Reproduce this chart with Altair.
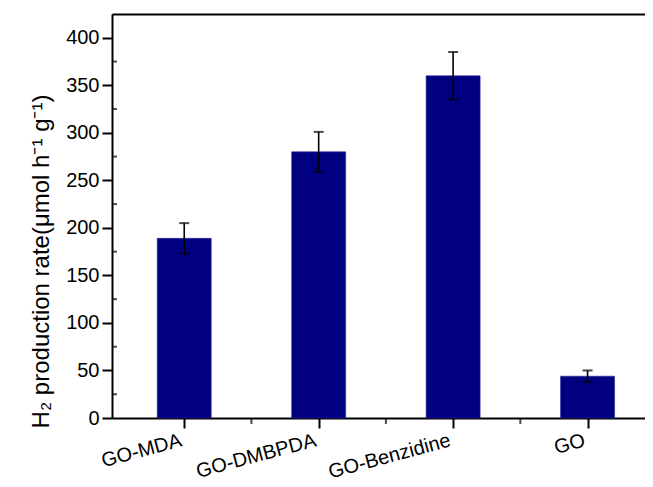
import json
import altair as alt
import pandas as pd

# ---- data ----
categories = ["GO-MDA", "GO-DMBPDA", "GO-Benzidine", "GO"]
rates = [189, 280, 360, 44]
errors = [16, 21, 25, 6]

y_major = [0, 50, 100, 150, 200, 250, 300, 350, 400]
y_minor = [25, 75, 125, 175, 225, 275, 325, 375]
x_major = [1, 2, 3, 4]
x_minor = [1.5, 2.5, 3.5]

df = pd.DataFrame({
    "idx": list(range(1, len(categories) + 1)),
    "cat": categories,
    "rate": rates,
    "lo": [r - e for r, e in zip(rates, errors)],
    "hi": [r + e for r, e in zip(rates, errors)],
})
df_ym = pd.DataFrame({"v": y_minor})
df_xm = pd.DataFrame({"v": x_minor})

FONT = "Liberation Sans"
XDOM = [0.5, 4.39]
YDOM = [0, 425]
label_expr = json.dumps(categories) + "[datum.value - 1]"

xscale = alt.Scale(domain=XDOM, nice=False, zero=False)
yscale = alt.Scale(domain=YDOM, nice=False)

bars = alt.Chart(df).mark_bar(color="#000080", size=54, stroke="#2a2a9a", strokeWidth=0.6).encode(
    x=alt.X("idx:Q", scale=xscale, axis=alt.Axis(
        values=x_major, labelExpr=label_expr, tickSize=10, tickWidth=2,
        domainWidth=2, domainColor="black", tickColor="black",
        labelAngle=345, labelAlign="right", labelBaseline="top",
        labelFontSize=20, labelFont=FONT, labelColor="black", labelPadding=2,
        labelOffset=-6, labelOverlap=False, grid=False, title=None, orient="bottom")),
    y=alt.Y("rate:Q", scale=yscale, axis=alt.Axis(
        values=y_major, tickSize=10, tickWidth=2, domainWidth=2,
        domainColor="black", tickColor="black", labelFontSize=20,
        labelFont=FONT, labelColor="black", labelPadding=3, grid=False,
        title="H₂ production rate(μmol h⁻¹ g⁻¹)", titleFont=FONT,
        titleFontSize=24, titleFontWeight="normal", titleColor="black",
        titlePadding=12, titleY=247, orient="left")),
)

err = alt.Chart(df).mark_rule(color="black", strokeWidth=1.6).encode(
    x=alt.X("idx:Q", scale=xscale, axis=None),
    y=alt.Y("lo:Q", scale=yscale, axis=None),
    y2="hi:Q",
)
cap_hi = alt.Chart(df).mark_tick(color="black", orient="horizontal", size=10, thickness=2).encode(
    x=alt.X("idx:Q", scale=xscale, axis=None), y=alt.Y("hi:Q", scale=yscale, axis=None))
cap_lo = alt.Chart(df).mark_tick(color="black", orient="horizontal", size=10, thickness=2).encode(
    x=alt.X("idx:Q", scale=xscale, axis=None), y=alt.Y("lo:Q", scale=yscale, axis=None))

# minor ticks (outside the frame)
ymin_ticks = alt.Chart(df_ym).mark_tick(color="black", orient="horizontal", size=5,
                                        thickness=2, xOffset=-2.5).encode(
    x=alt.datum(XDOM[0], scale=xscale, axis=None),
    y=alt.Y("v:Q", scale=yscale, axis=None),
)
xmin_ticks = alt.Chart(df_xm).mark_tick(color="black", orient="vertical", size=6,
                                        thickness=2, yOffset=3).encode(
    x=alt.X("v:Q", scale=xscale, axis=None),
    y=alt.datum(0, scale=yscale, axis=None),
)

top = alt.Chart(df).mark_point(opacity=0).encode(
    x=alt.X("idx:Q", scale=xscale, axis=alt.Axis(
        ticks=False, labels=False, domain=True, domainWidth=2,
        domainColor="black", grid=False, title=None, orient="top")),
    y=alt.Y("rate:Q", scale=yscale, axis=None),
)

chart = alt.layer(bars, err, cap_hi, cap_lo, ymin_ticks, xmin_ticks, top).resolve_axis(
    x="independent", y="independent"
).properties(
    width=533, height=404,
    autosize=alt.AutoSizeParams(type="none"),
    padding={"left": 104, "top": 6, "right": 0, "bottom": 70},
).configure_view(stroke=None)

chart.save("out.html", embed_options={"renderer": "svg", "actions": False})
